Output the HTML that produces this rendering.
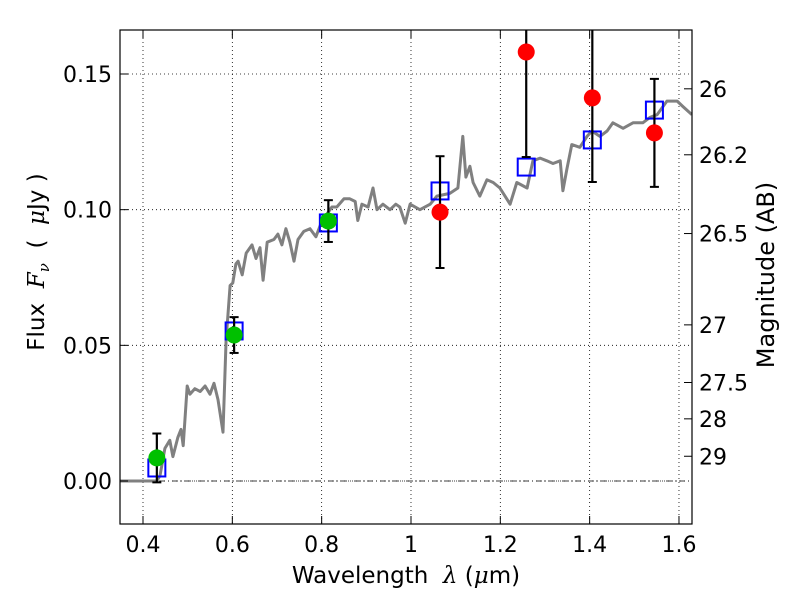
<!DOCTYPE html>
<html><head><meta charset="utf-8">
<style>
body{margin:0;background:#fff;}
svg{display:block;font-family:"DejaVu Sans","Liberation Sans",sans-serif;}
</style></head>
<body>
<svg id="chart" width="800" height="600" viewBox="0 0 800 600">
<defs><clipPath id="clip"><rect x="120" y="30" width="572" height="494"/></clipPath></defs>
<rect x="0" y="0" width="800" height="600" fill="#fff"/>
<g id="grid"></g>
<g id="plot" clip-path="url(#clip)"></g>
<rect x="120" y="30" width="572" height="494" fill="none" stroke="#000" stroke-width="1.2"/>
<g id="axes"></g>
<text x="406" y="583" font-size="23" text-anchor="middle" xml:space="preserve">Wavelength  <tspan font-style="italic" font-family="DejaVu Serif,serif">λ</tspan> (<tspan font-style="italic" font-family="DejaVu Serif,serif">μ</tspan>m)</text>
<text transform="translate(44,262) rotate(-90)" font-size="23" text-anchor="middle" xml:space="preserve">Flux  <tspan font-style="italic" font-family="DejaVu Serif,serif">F</tspan><tspan font-style="italic" font-family="DejaVu Serif,serif" font-size="15" dy="5">ν</tspan><tspan dy="-5">  (  </tspan><tspan font-style="italic" font-family="DejaVu Serif,serif">μ</tspan>Jy )</text>
<text transform="translate(774,275) rotate(-90)" font-size="24" text-anchor="middle">Magnitude (AB)</text>
</svg>
<script>
const specWave=[0.349,0.431,0.438,0.449,0.460,0.467,0.478,0.485,0.490,0.499,0.505,0.516,0.528,0.539,0.550,0.559,0.568,0.579,0.586,0.595,0.601,0.608,0.613,0.622,0.631,0.644,0.653,0.662,0.669,0.678,0.693,0.702,0.711,0.720,0.729,0.738,0.747,0.760,0.774,0.787,0.801,0.810,0.823,0.834,0.850,0.863,0.875,0.881,0.890,0.904,0.915,0.924,0.937,0.953,0.966,0.975,0.987,0.998,1.020,1.043,1.058,1.087,1.105,1.116,1.123,1.132,1.139,1.154,1.170,1.184,1.199,1.222,1.237,1.260,1.273,1.289,1.304,1.318,1.334,1.340,1.349,1.360,1.378,1.394,1.405,1.423,1.439,1.452,1.475,1.497,1.519,1.535,1.551,1.573,1.596,1.609,1.629];
const specFlux=[0,0,0.002,0.012,0.015,0.009,0.016,0.019,0.013,0.035,0.032,0.034,0.033,0.035,0.032,0.036,0.030,0.018,0.052,0.072,0.073,0.080,0.081,0.076,0.084,0.087,0.082,0.086,0.074,0.088,0.089,0.091,0.087,0.093,0.088,0.081,0.089,0.092,0.093,0.090,0.096,0.098,0.101,0.101,0.104,0.104,0.103,0.096,0.102,0.101,0.108,0.100,0.102,0.100,0.102,0.101,0.095,0.102,0.100,0.102,0.105,0.106,0.108,0.127,0.112,0.116,0.110,0.105,0.111,0.110,0.108,0.102,0.110,0.108,0.118,0.119,0.118,0.117,0.118,0.107,0.115,0.124,0.123,0.127,0.129,0.127,0.129,0.132,0.130,0.132,0.132,0.134,0.135,0.140,0.140,0.138,0.135];
const greenWave=[0.431,0.604,0.815];
const greenFlux=[0.0085,0.0538,0.0958];
const greenErr=[0.009,0.0066,0.0077];
const redWave=[1.065,1.258,1.406,1.545];
const redFlux=[0.0991,0.1581,0.1412,0.1283];
const redErr=[0.0206,0.0387,0.031,0.0199];
const modelWave=[0.431,0.604,0.815,1.065,1.258,1.406,1.545];
const modelFlux=[0.0048,0.0553,0.0951,0.1069,0.1157,0.1257,0.1367];
const xTicks=[0.4,0.6,0.8,1.0,1.2,1.4,1.6];
const xTickLabels=["0.4","0.6","0.8","1","1.2","1.4","1.6"];
const yTicks=[0,0.05,0.10,0.15];
const yTickLabels=["0.00","0.05","0.10","0.15"];
const magTicks=[26,26.2,26.5,27,27.5,28,29];
const magTickLabels=["26","26.2","26.5","27","27.5","28","29"];

const X=v=>143+(v-0.4)*(89.33/0.2);
const Y=v=>481-v*2713.3;
const magToFlux=m=>Math.pow(10,(23.9-m)/2.5);
const NS="http://www.w3.org/2000/svg";
function mk(tag,attrs,parent){const e=document.createElementNS(NS,tag);for(const k in attrs)e.setAttribute(k,attrs[k]);parent.appendChild(e);return e;}
const grid=document.getElementById('grid'),plot=document.getElementById('plot'),axes=document.getElementById('axes');

xTicks.forEach((t,i)=>{
  const x=X(t);
  let g=mk('line',{x1:x,x2:x,y1:30,y2:524,stroke:'#000','stroke-width':0.8,'stroke-dasharray':'1,3'},grid);
  
  
  mk('line',{x1:x,x2:x,y1:524,y2:516,stroke:'#000'},axes);
  mk('line',{x1:x,x2:x,y1:30,y2:38,stroke:'#000'},axes);
  let tx=mk('text',{x:x,y:552,'font-size':22,'text-anchor':'middle'},axes);
  tx.textContent=xTickLabels[i];
  
  
});
yTicks.forEach((t,i)=>{
  const y=Y(t);
  let g=mk('line',{x1:120,x2:692,y1:y,y2:y,stroke:'#000','stroke-width':0.8,'stroke-dasharray':'1,3'},grid);
  
  
  mk('line',{x1:120,x2:128,y1:y,y2:y,stroke:'#000'},axes);
  let tx=mk('text',{x:112,y:y+8,'font-size':22,'text-anchor':'end'},axes);
  tx.textContent=yTickLabels[i];
  
  
});
magTicks.forEach((m,i)=>{
  const y=Y(magToFlux(m));
  mk('line',{x1:684,x2:692,y1:y,y2:y,stroke:'#000'},axes);
  let tx=mk('text',{x:699,y:y+8,'font-size':22},axes);
  tx.textContent=magTickLabels[i];
  
  
});
let zl=mk('line',{x1:120,x2:692,y1:Y(0),y2:Y(0),stroke:'#000','stroke-width':0.8,'stroke-dasharray':'6,3,1,3'},plot);



let pts=specWave.map((w,i)=>X(w).toFixed(1)+','+Y(specFlux[i]).toFixed(1)).join(' ');
let sp=mk('polyline',{points:pts,fill:'none',stroke:'#808080','stroke-width':3,'stroke-linejoin':'round'},plot);



function errbar(w,f,e){
  const x=X(w),y1=Y(f+e),y2=Y(f-e);
  let l=mk('line',{x1:x,x2:x,y1:y1,y2:y2,stroke:'#000','stroke-width':2.2},plot);
  
  
  mk('line',{x1:x-4.5,x2:x+4.5,y1:y1,y2:y1,stroke:'#000','stroke-width':2},plot);
  mk('line',{x1:x-4.5,x2:x+4.5,y1:y2,y2:y2,stroke:'#000','stroke-width':2},plot);
}
modelWave.forEach((w,i)=>{
  let r=mk('rect',{x:X(w)-8.5,y:Y(modelFlux[i])-8.5,width:17,height:17,fill:'none',stroke:'#0000ff','stroke-width':2},plot);
  
  
});
greenWave.forEach((w,i)=>errbar(w,greenFlux[i],greenErr[i]));
redWave.forEach((w,i)=>errbar(w,redFlux[i],redErr[i]));
greenWave.forEach((w,i)=>{
  let c=mk('circle',{cx:X(w),cy:Y(greenFlux[i]),r:8.5,fill:'#00c000'},plot);
  
  
});
redWave.forEach((w,i)=>{
  let c=mk('circle',{cx:X(w),cy:Y(redFlux[i]),r:8.5,fill:'#ff0000'},plot);
  
  
});
</script>
</body></html>
